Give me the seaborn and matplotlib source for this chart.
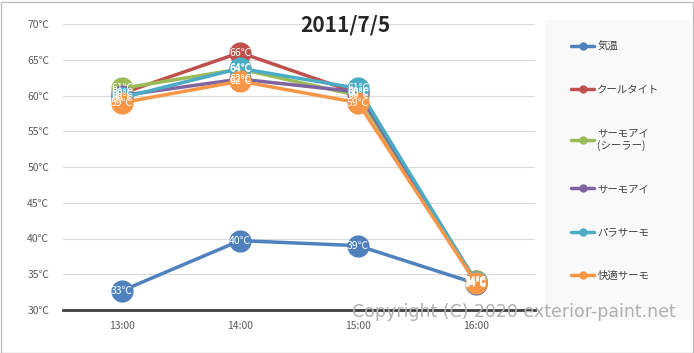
import numpy as np
import pandas as pd
import seaborn as sns
import matplotlib.pyplot as plt

sns.set_style('white')
plt.rcParams['font.family'] = ['Noto Sans CJK JP', 'DejaVu Sans']

times = ['13:00', '14:00', '15:00', '16:00']
series_names = ['気温', 'クールタイト', 'サーモアイ\n(シーラー)', 'サーモアイ', 'パラサーモ', '快適サーモ']
kion = [32.7, 39.7, 39.0, 33.7]
cooltite = [60.3, 66.0, 60.3, 34.0]
thermoeye_sealer = [61.0, 63.7, 60.0, 34.0]
thermoeye = [60.0, 62.3, 60.5, 33.8]
parathermo = [59.7, 63.8, 61.0, 33.9]
kaiteki = [59.0, 62.0, 59.0, 33.8]
colors = ['#4F81BD', '#C0504D', '#9BBB59', '#8064A2', '#4BACC6', '#F79646']

values = [kion, cooltite, thermoeye_sealer, thermoeye, parathermo, kaiteki]
rows = []
for name, vals in zip(series_names, values):
    for t, v in zip(times, vals):
        rows.append({'time': t, 'temp': v, 'series': name})
df = pd.DataFrame(rows)

fig = plt.figure(figsize=(6.94, 3.53), dpi=100)
ax = fig.add_axes([63/694, 1 - 310/353, 472/694, 286/353])

sns.lineplot(data=df, x='time', y='temp', hue='series', palette=colors,
             hue_order=series_names, sort=False, lw=2.5, marker='o',
             markersize=16, markeredgewidth=0, ax=ax, legend=False)

xpos = {t: i for i, t in enumerate(times)}
for name, vals in zip(series_names, values):
    for t, v in zip(times, vals):
        ax.text(xpos[t], v, f'{round(v):d}℃', color='white', fontsize=7.5,
                ha='center', va='center', zorder=10)

ax.set_xlim(-0.5, 3.5)
ax.set_ylim(30, 70)
ax.set_yticks(range(30, 71, 5))
ax.set_yticklabels([f'{v}℃' for v in range(30, 71, 5)], color='#595959', fontsize=7.5)
ax.tick_params(axis='x', labelsize=7.5, labelcolor='#595959', length=0, pad=8)
ax.tick_params(axis='y', length=0, pad=10)
ax.grid(axis='y', color='#d9d9d9', lw=0.8)
for s in ['top', 'right', 'left']:
    ax.spines[s].set_visible(False)
ax.spines['bottom'].set_color('#404040')
ax.spines['bottom'].set_linewidth(2)
ax.set_xlabel('')
ax.set_ylabel('')

fig.text(345/694, 1 - 25/353, '2011/7/5', ha='center', va='center',
         fontsize=15, fontweight='bold', color='#262626')

# legend panel
panel = plt.Rectangle((545/694, 1 - 320/353), 145/694, 300/353,
                      transform=fig.transFigure, facecolor='#f9f9f9',
                      edgecolor='none', zorder=0)
fig.patches.append(panel)
handles = [plt.Line2D([], [], color=c, lw=2.5, marker='o', markersize=5)
           for c in colors]
fig.legend(handles, series_names, loc='upper left',
           bbox_to_anchor=(562/694, 1 - 32/353), frameon=False,
           fontsize=7.5, labelspacing=3.2, handlelength=2.2,
           handletextpad=0.3, labelcolor='#404040')

fig.text(676/694, 1 - 312/353, 'Copyright (C) 2020 exterior-paint.net',
         ha='right', va='center', fontsize=12.5, color='#b0b0b0',
         family='DejaVu Sans')

border = plt.Rectangle((0.5/694, 0.5/353), 692/694, 351/353,
                       transform=fig.transFigure, facecolor='none',
                       edgecolor='#bfbfbf', lw=1)
fig.patches.append(border)

fig.savefig('out.png', dpi=100)
